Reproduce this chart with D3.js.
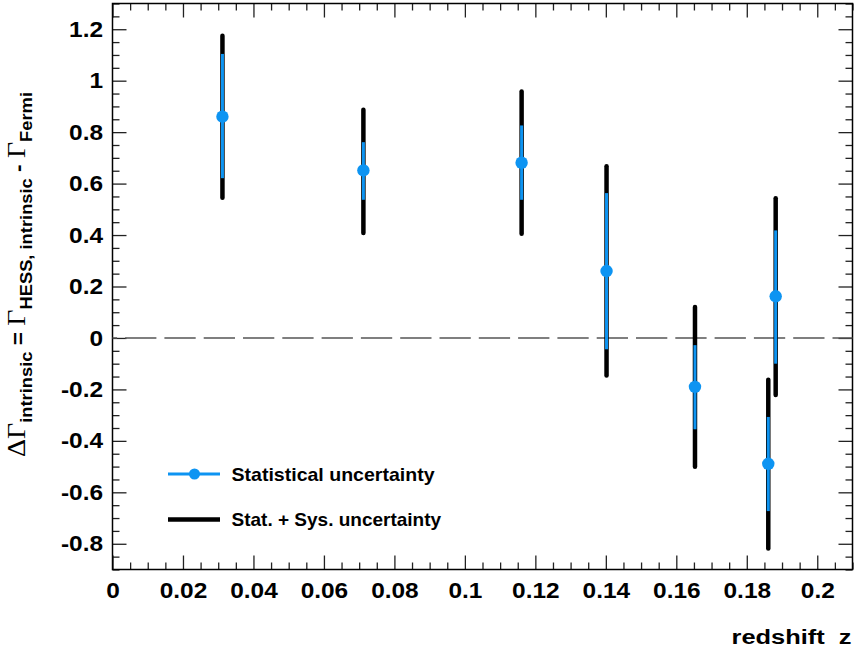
<!DOCTYPE html>
<html><head><meta charset="utf-8">
<script src="https://cdn.jsdelivr.net/npm/d3@7"></script>
<style>body{margin:0;background:#fff}text{font-family:"Liberation Sans",Arial,Helvetica,sans-serif;font-weight:bold}</style>
</head><body>
<svg id="c" width="861" height="651" xmlns="http://www.w3.org/2000/svg"></svg>
<script>
// ---- data ----
const redshift   = [0.0312, 0.0712, 0.1161, 0.1402, 0.1653, 0.1861, 0.1882];
const deltaGamma = [0.860, 0.651, 0.681, 0.260, -0.190, -0.489, 0.162];
const statLow    = [0.621, 0.537, 0.537, -0.044, -0.355, -0.673, -0.100];
const statHigh   = [1.104, 0.761, 0.826, 0.563, -0.028, -0.307, 0.418];
const sysLow     = [0.545, 0.408, 0.405, -0.146, -0.501, -0.818, -0.222];
const sysHigh    = [1.175, 0.887, 0.958, 0.667, 0.120, -0.162, 0.543];
const xTickValues = [0, 0.02, 0.04, 0.06, 0.08, 0.1, 0.12, 0.14, 0.16, 0.18, 0.2];
const xTickLabels = ["0","0.02","0.04","0.06","0.08","0.1","0.12","0.14","0.16","0.18","0.2"];
const yTickValues = [-0.8, -0.6, -0.4, -0.2, 0, 0.2, 0.4, 0.6, 0.8, 1, 1.2];
const yTickLabels = ["-0.8","-0.6","-0.4","-0.2","0","0.2","0.4","0.6","0.8","1","1.2"];
const legendLabels = ["Statistical uncertainty", "Stat. + Sys. uncertainty"];

const BLUE = "#0d94f2";
const svg = d3.select("#c");
const L = 112.5, R = 852.5, T = 3.5, B = 569.5;
const x = d3.scaleLinear().domain([0, 0.21]).range([L, R]);
const y = d3.scaleLinear().domain([-0.9, 1.3]).range([B, T]);

const xMinor = d3.range(0, 0.2101, 0.005).map(v => +v.toFixed(3)).filter(v => !xTickValues.some(t => Math.abs(t - v) < 1e-6));
const yMinor = d3.range(-0.9, 1.3001, 0.05).map(v => +v.toFixed(3)).filter(v => !yTickValues.some(t => Math.abs(t - v) < 1e-6));

function stretch(sel, f) {
  sel.each(function () {
    const w = this.getComputedTextLength();
    d3.select(this).attr("textLength", w * f).attr("lengthAdjust", "spacingAndGlyphs");
  });
}
function styleAxis(g) {
  g.select(".domain").remove();
  g.selectAll(".tick line").attr("stroke", "#222").attr("stroke-width", 1.3);
  g.selectAll("text").attr("fill", "#000").style("font-size", "22px").style("font-weight", "bold");
}
// bottom
svg.append("g").attr("transform", `translate(0,${B})`)
  .call(d3.axisBottom(x).tickValues(xTickValues).tickSize(-14).tickPadding(13).tickFormat((d, i) => xTickLabels[i]))
  .call(styleAxis).call(g => stretch(g.selectAll("text"), 1.11));
svg.append("g").attr("transform", `translate(0,${B})`)
  .call(d3.axisBottom(x).tickValues(xMinor).tickSize(-7).tickFormat(""))
  .call(styleAxis);
// top
svg.append("g").attr("transform", `translate(0,${T})`)
  .call(d3.axisTop(x).tickValues(xTickValues).tickSize(-14).tickFormat(""))
  .call(styleAxis);
svg.append("g").attr("transform", `translate(0,${T})`)
  .call(d3.axisTop(x).tickValues(xMinor).tickSize(-7).tickFormat(""))
  .call(styleAxis);
// left
svg.append("g").attr("transform", `translate(${L},0)`)
  .call(d3.axisLeft(y).tickValues(yTickValues).tickSize(-14).tickPadding(9.5).tickFormat((d, i) => yTickLabels[i]))
  .call(styleAxis).call(g => stretch(g.selectAll("text"), 1.11));
svg.append("g").attr("transform", `translate(${L},0)`)
  .call(d3.axisLeft(y).tickValues(yMinor).tickSize(-7).tickFormat(""))
  .call(styleAxis);
// right
svg.append("g").attr("transform", `translate(${R},0)`)
  .call(d3.axisRight(y).tickValues(yTickValues).tickSize(-14).tickFormat(""))
  .call(styleAxis);
svg.append("g").attr("transform", `translate(${R},0)`)
  .call(d3.axisRight(y).tickValues(yMinor).tickSize(-7).tickFormat(""))
  .call(styleAxis);

// frame
svg.append("rect").attr("x", L).attr("y", T).attr("width", R - L).attr("height", B - T)
  .attr("fill", "none").attr("stroke", "#000").attr("stroke-width", 1.5);

// zero dashed line
svg.append("line").attr("x1", L).attr("x2", R).attr("y1", y(0)).attr("y2", y(0))
  .attr("stroke", "#555").attr("stroke-width", 1.6).attr("stroke-dasharray", "31.3,8").attr("stroke-dashoffset", 26.7);

// error bars
const idx = d3.range(redshift.length);
svg.append("g").selectAll("line").data(idx).join("line")
  .attr("x1", i => x(redshift[i])).attr("x2", i => x(redshift[i]))
  .attr("y1", i => y(sysLow[i])).attr("y2", i => y(sysHigh[i]))
  .attr("stroke", "#000").attr("stroke-width", 4.5).attr("stroke-linecap", "round");
svg.append("g").selectAll("line").data(idx).join("line")
  .attr("x1", i => x(redshift[i])).attr("x2", i => x(redshift[i]))
  .attr("y1", i => y(statLow[i])).attr("y2", i => y(statHigh[i]))
  .attr("stroke", BLUE).attr("stroke-width", 3);
svg.append("g").selectAll("circle").data(idx).join("circle")
  .attr("cx", i => x(redshift[i])).attr("cy", i => y(deltaGamma[i])).attr("r", 6.2)
  .attr("fill", BLUE);

// legend
const lg = svg.append("g");
lg.append("line").attr("x1", 168).attr("x2", 220).attr("y1", 474).attr("y2", 474).attr("stroke", BLUE).attr("stroke-width", 3);
lg.append("circle").attr("cx", 194.5).attr("cy", 474).attr("r", 5.5).attr("fill", BLUE);
lg.append("line").attr("x1", 168).attr("x2", 220).attr("y1", 519.5).attr("y2", 519.5).attr("stroke", "#000").attr("stroke-width", 4.5);
const lt1 = lg.append("text").attr("x", 231.5).attr("y", 480.5).style("font-size", "19px").text(legendLabels[0]);
const lt2 = lg.append("text").attr("x", 231.5).attr("y", 525.5).style("font-size", "19px").text(legendLabels[1]);
lt1.attr("textLength", 203).attr("lengthAdjust", "spacingAndGlyphs");
stretch(lt2, 203 / lt1.node().getComputedTextLength());

// x title
const xt = svg.append("text").attr("x", 851.5).attr("y", 644).attr("text-anchor", "end")
  .style("font-size", "20px").text("redshift\u00a0 z");
xt.attr("textLength", 120).attr("lengthAdjust", "spacingAndGlyphs");

// y title
const yt = svg.append("text").attr("transform", "translate(25,457) rotate(-90)");
const serif = s => s.style("font-family", "'Liberation Serif','Times New Roman',serif").style("font-weight", "normal").style("font-size", "26px");
serif(yt.append("tspan").text("\u0394\u0393"));
yt.append("tspan").attr("dy", 7).style("font-size", "17px").text("intrinsic");
yt.append("tspan").attr("dy", -7).style("font-size", "21px").text("\u00a0=\u00a0");
serif(yt.append("tspan").text("\u0393"));
yt.append("tspan").attr("dy", 7).style("font-size", "17px").text("HESS, intrinsic");
yt.append("tspan").attr("dy", -7).style("font-size", "21px").text("\u00a0-\u00a0");
serif(yt.append("tspan").text("\u0393"));
yt.append("tspan").attr("dy", 7).style("font-size", "17px").text("Fermi");
yt.attr("textLength", 365).attr("lengthAdjust", "spacingAndGlyphs");
</script>
</body></html>
